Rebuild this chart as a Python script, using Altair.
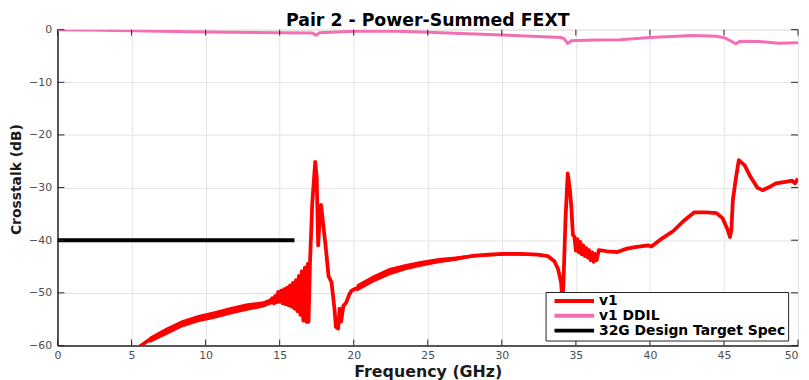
import altair as alt
import pandas as pd

# ---------------- data ----------------
freq_ticks = [0, 5, 10, 15, 20, 25, 30, 35, 40, 45, 50]
db_ticks = [-60, -50, -40, -30, -20, -10, 0]

series_names = ["v1", "v1 DDIL", "32G Design Target Spec"]
series_colors = ["#ff0000", "#f46eb4", "#000000"]

# v1 (power-summed FEXT) centre line, incl. the saw-tooth ripple regions
v1_f = [5.5, 6.15, 7.27, 8.4, 9.5, 10.6, 11.7, 12.8, 13.9, 14.4,
        14.5, 14.6, 14.7, 14.8, 14.9, 15.0, 15.1, 15.2, 15.3, 15.4,
        15.5, 15.6, 15.7, 15.8, 15.9, 16.0, 16.1, 16.2, 16.3, 16.4,
        16.5, 16.6, 16.7, 16.8, 16.9, 16.95, 17.05,
        17.2, 17.4, 17.5, 17.6, 17.7, 17.8, 17.9, 18.1, 18.3, 18.5,
        18.7, 18.8, 18.95, 19.05, 19.15, 19.3, 19.5, 19.7, 19.85, 20.2,
        21.3, 22.4, 23.5, 24.6, 25.75, 26.9, 28.0, 29.1, 30.2, 31.3,
        32.4, 33.1, 33.55, 33.8, 34.0, 34.08, 34.15, 34.3, 34.45, 34.6,
        34.7, 34.8, 34.9, 35.0, 35.1, 35.2, 35.3, 35.4, 35.5, 35.6,
        35.7, 35.8, 35.9, 36.0, 36.1, 36.2, 36.3, 36.4, 36.55, 37.1,
        37.8, 38.45, 39.1, 39.9, 40.1, 40.7, 41.6, 42.25, 43.0, 43.8,
        44.5, 44.9, 45.25, 45.4, 45.5, 45.6, 45.8, 46.0, 46.4, 46.8,
        47.25, 47.6, 48.0, 48.5, 49.15, 49.6, 49.8, 50.0]
v1_db = [-60.3, -59.0, -57.4, -55.9, -54.9, -54.2, -53.4, -52.7, -52.2, -51.6,
         -51.0, -52.0, -50.6, -51.8, -49.8, -51.7, -49.6, -52.0, -49.3, -52.2,
         -49.0, -52.4, -48.6, -52.6, -48.1, -53.0, -47.6, -53.5, -46.8, -54.2,
         -45.9, -55.3, -45.2, -55.5, -44.5, -55.5, -44.2,
         -33.0, -25.1, -28.0, -41.0, -36.0, -33.3, -36.0, -41.0, -46.8, -48.0,
         -53.0, -56.5, -56.8, -53.0, -55.5, -52.5, -51.8, -50.3, -49.6, -49.1,
         -47.4, -46.0, -45.1, -44.45, -43.9, -43.5, -43.0, -42.75, -42.6, -42.6,
         -42.75, -43.0, -44.0, -45.5, -48.0, -51.0, -49.0, -36.0, -27.3, -30.5,
         -34.0, -39.0, -39.3, -42.0, -39.8, -42.3, -40.3, -42.7, -41.0, -43.0,
         -41.5, -43.3, -41.9, -43.8, -42.3, -44.1, -42.6, -43.8, -41.9, -42.1,
         -42.25, -41.6, -41.25, -41.0, -41.2, -39.9, -38.2, -36.4, -34.7, -34.7,
         -34.85, -35.8, -38.0, -39.4, -38.0, -32.35, -28.3, -24.8, -25.8, -28.0,
         -30.0, -30.5, -30.0, -29.2, -28.9, -28.7, -29.2, -28.3]

# fine ripple envelope of v1 (drawn as a filled band)
band_seg = ["a"] * 9 + ["b"] * 11
band_f = [6.2, 7.3, 8.4, 9.5, 10.6, 11.7, 12.8, 13.9, 14.5,
          20.2, 21.3, 22.4, 23.5, 24.6, 25.75, 26.9, 28.0, 30.2, 32.4, 33.1]
band_lo = [-59.6, -58.1, -56.6, -55.6, -54.9, -54.1, -53.4, -52.8, -52.1,
           -49.8, -48.1, -46.7, -45.7, -45.0, -44.4, -43.9, -43.3, -42.9, -43.0, -43.3]
band_hi = [-58.4, -56.7, -55.2, -54.2, -53.5, -52.7, -52.0, -51.6, -50.9,
           -48.4, -46.7, -45.3, -44.5, -43.9, -43.4, -43.1, -42.7, -42.3, -42.5, -42.7]

# v1 DDIL
ddil_f = [0, 2, 5, 10, 15, 17.2, 17.45, 17.7, 18.5, 20, 22.9, 25, 30, 34, 34.2,
          34.45, 34.7, 36.2, 38, 40, 42.9, 44.5, 45.1, 45.5, 45.8, 46.1, 47.4,
          48.7, 50]
ddil_db = [0.0, -0.05, -0.2, -0.45, -0.6, -0.65, -1.05, -0.6, -0.5, -0.3, -0.3,
           -0.5, -1.0, -1.5, -1.7, -2.6, -2.1, -1.95, -1.9, -1.5, -1.1, -1.25,
           -1.6, -2.2, -2.7, -2.2, -2.25, -2.6, -2.5]

# 32G design target spec
spec_f = [0, 16]
spec_db = [-40, -40]

# ---------------- tables ----------------
v1_df = pd.DataFrame({"f": v1_f, "db": v1_db, "series": "v1"})
ddil_df = pd.DataFrame({"f": ddil_f, "db": ddil_db, "series": "v1 DDIL"})
spec_df = pd.DataFrame({"f": spec_f, "db": spec_db, "series": "32G Design Target Spec"})
band_df = pd.DataFrame({"f": band_f, "lo": band_lo, "hi": band_hi, "seg": band_seg})
xt_df = pd.DataFrame({"f": freq_ticks})
yt_df = pd.DataFrame({"db": db_ticks})

FONT = "DejaVu Sans"
W, H = 748, 319

xs = alt.Scale(domain=[0, 50], nice=False, zero=False)
ys = alt.Scale(domain=[-60, 0], nice=False, zero=False)

x_axis = alt.Axis(values=freq_ticks, title="Frequency (GHz)", grid=True,
                  gridColor="#e3e3e3", gridWidth=1, ticks=False, labelPadding=4,
                  labelFlush=False, labelOverlap=False, labelFont=FONT,
                  labelFontSize=11, labelColor="#4d4d4d", domainColor="#262626",
                  labelAlign=alt.ExprRef(expr="datum.value == 50 ? 'right' : 'center'"),
                  domainWidth=1.5, titleFont=FONT, titleFontSize=16,
                  titleFontWeight="bold", titleColor="#1a1a1a", titlePadding=3,
                  format="d")
y_axis = alt.Axis(values=db_ticks, title="Crosstalk (dB)", grid=True,
                  gridColor="#e3e3e3", gridWidth=1, ticks=False, labelPadding=6,
                  labelFlush=False, labelOverlap=False, labelFont=FONT,
                  labelFontSize=11, labelColor="#4d4d4d", domainColor="#262626",
                  domainWidth=1.5, titleFont=FONT, titleFontSize=14,
                  titleFontWeight="bold", titleColor="#1a1a1a", titlePadding=5,
                  titleY=151, format="d")

X = alt.X("f:Q", scale=xs, axis=x_axis)
Y = alt.Y("db:Q", scale=ys, axis=y_axis)

color_scale = alt.Scale(domain=series_names, range=series_colors)
legend = alt.Legend(title=None, orient="none", legendX=493, legendY=265,
                    symbolType="M0,0H10", symbolSize=64, symbolStrokeWidth=4,
                    labelFont=FONT, labelFontWeight="bold", labelFontSize=14,
                    labelColor="black", labelOffset=38, labelLimit=400,
                    strokeColor="#222222", fillColor="white", padding=2,
                    rowPadding=-1, cornerRadius=0)
C = alt.Color("series:N", scale=color_scale, legend=legend)

band = alt.Chart(band_df).mark_area(color="#ff0000", opacity=1, clip=True).encode(
    x=X, y=alt.Y("lo:Q", scale=ys, axis=y_axis), y2="hi:Q", detail="seg:N")

v1_line = alt.Chart(v1_df).mark_line(strokeWidth=3.8, clip=True,
                                     strokeJoin="round").encode(x=X, y=Y, color=C)
ddil_line = alt.Chart(ddil_df).mark_line(strokeWidth=3, clip=True).encode(
    x=X, y=Y, color=C)
spec_line = alt.Chart(spec_df).mark_line(strokeWidth=4, clip=True).encode(
    x=X, y=Y, color=C)

tick_col = "#262626"
xt_bottom = alt.Chart(xt_df).mark_rule(color=tick_col, strokeWidth=1).encode(
    x=X, y=alt.value(H), y2=alt.value(H - 6))
xt_top = alt.Chart(xt_df).mark_rule(color=tick_col, strokeWidth=1).encode(
    x=X, y=alt.value(0), y2=alt.value(6))
yt_left = alt.Chart(yt_df).mark_rule(color=tick_col, strokeWidth=1).encode(
    y=Y, x=alt.value(0), x2=alt.value(7))
yt_right = alt.Chart(yt_df).mark_rule(color=tick_col, strokeWidth=1).encode(
    y=Y, x=alt.value(W), x2=alt.value(W - 7))

chart = alt.layer(
    band, v1_line, ddil_line, spec_line, xt_bottom, xt_top, yt_left, yt_right
).properties(
    width=W, height=H,
    title=alt.TitleParams("Pair 2 - Power-Summed FEXT", font=FONT, fontSize=17.5,
                          fontWeight="bold", color="black", anchor="middle",
                          frame="group", offset=6, dy=11.5),
    autosize=alt.AutoSizeParams(type="none"),
    padding={"left": 50, "top": 20, "right": 3, "bottom": 33},
).configure_view(stroke="#555555", strokeWidth=1).configure(background="white")

chart.save("out.html", embed_options={"renderer": "svg", "actions": False})
